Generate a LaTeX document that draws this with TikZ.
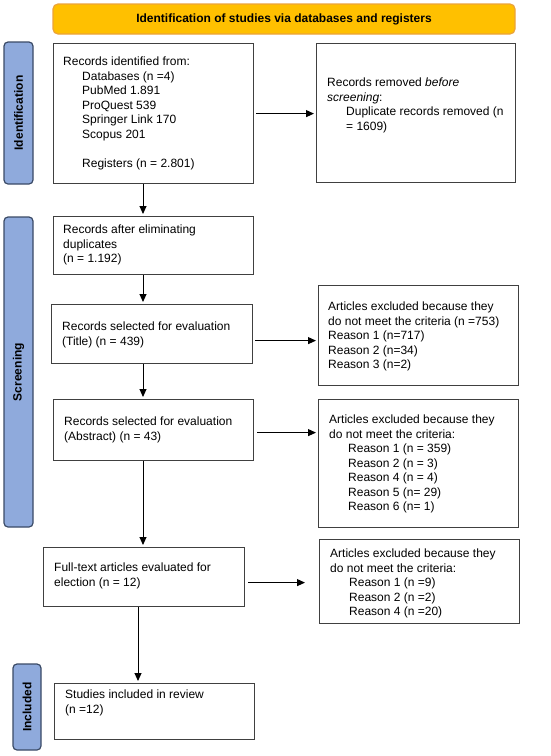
\documentclass[tikz,border=0pt]{standalone}
\usepackage{fontspec}
\setmainfont{Liberation Sans}
\usetikzlibrary{arrows.meta}
\definecolor{sidefill}{HTML}{8FAADC}
\definecolor{sidedraw}{HTML}{3A4A66}
\definecolor{headfill}{HTML}{FFC000}
\definecolor{headdraw}{HTML}{EBA33A}
\newcommand{\rind}{\hspace*{19pt}}
\tikzset{
  box/.style={draw=black!75, line width=1.2pt, anchor=north west, inner sep=0pt},
  txt/.style={anchor=north west, inner sep=0pt, align=left, font=\fontsize{12}{14.5}\selectfont},
  side/.style={draw=sidedraw, fill=sidefill, line width=1.2pt, rounded corners=4pt, rotate=90, inner sep=0pt, font=\fontsize{12}{14.5}\selectfont\bfseries},
  arr/.style={line width=1pt, shorten >=2pt, -{Triangle[length=8pt,width=7pt]}}
}

\begin{document}
\begin{tikzpicture}[x=1pt,y=-1pt]
        \useasboundingbox (0,0) rectangle (550,756);
        
        % Title bar
        \node [draw=headdraw, fill=headfill, line width=1.2pt, rounded corners=5pt, minimum width=462pt, minimum height=30pt, font=\fontsize{12}{14.5}\selectfont\bfseries] (head) at (284,19) {Identification of studies via databases and registers};%
        
        % Side bars
        \node [side, minimum width=142pt, minimum height=29pt] (ident) at (18.5,113) {Identification};%
        \node [side, minimum width=310pt, minimum height=29pt] (screen) at (18.5,372) {Screening};%
        \node [side, minimum width=86pt, minimum height=28pt] (inclbar) at (27,707) {Included};%
        
        % Box: records identified
        \node [box, minimum width=200pt, minimum height=140pt] (found) at (53,43) {};%
        \node [txt] (found-t) at ([shift={(10,14)}]found.north west) {Records identified from:\\
          \rind Databases (n =4)\\
          \rind PubMed 1.891\\
          \rind ProQuest 539\\
          \rind Springer Link 170\\
          \rind Scopus 201\\
          \mbox{}\\
          \rind Registers (n = 2.801)};%
        
        % Box: records removed
        \node [box, minimum width=199pt, minimum height=139pt] (removed) at (316,43) {};%
        \node [txt] (removed-t) at ([shift={(11,35)}]removed.north west) {Records removed \textit{before}\\
          \textit{screening}:\\
          \rind Duplicate records removed (n\\
          \rind = 1609)};%
        
        % Box: after duplicates
        \node [box, minimum width=200pt, minimum height=58pt] (dedup) at (53,216) {};%
        \node [txt] (dedup-t) at ([shift={(10,9)}]dedup.north west) {Records after eliminating\\
          duplicates\\
          (n = 1.192)};%
        
        % Box: title evaluation
        \node [box, minimum width=201pt, minimum height=59pt] (titled) at (51,304) {};%
        \node [txt] (titled-t) at ([shift={(11,18)}]titled.north west) {Records selected for evaluation\\
          (Title) (n = 439)};%
        
        % Box: excluded after title
        \node [box, minimum width=200pt, minimum height=100pt] (exclA) at (318,285) {};%
        \node [txt] (exclA-t) at ([shift={(10,17)}]exclA.north west) {Articles excluded because they\\
          do not meet the criteria (n =753)\\
          Reason 1 (n=717)\\
          Reason 2 (n=34)\\
          Reason 3 (n=2)};%
        
        % Box: abstract evaluation
        \node [box, minimum width=200pt, minimum height=61pt] (abstr) at (53,399) {};%
        \node [txt] (abstr-t) at ([shift={(11,18)}]abstr.north west) {Records selected for evaluation\\
          (Abstract) (n = 43)};%
        
        % Box: excluded after abstract
        \node [box, minimum width=200pt, minimum height=128pt] (exclB) at (318,399) {};%
        \node [txt] (exclB-t) at ([shift={(11,16)}]exclB.north west) {Articles excluded because they\\
          do not meet the criteria:\\
          \rind Reason 1 (n = 359)\\
          \rind Reason 2 (n = 3)\\
          \rind Reason 4 (n = 4)\\
          \rind Reason 5 (n= 29)\\
          \rind Reason 6 (n= 1)};%
        
        % Box: full text
        \node [box, minimum width=201pt, minimum height=59pt] (fulltext) at (43,547) {};%
        \node [txt] (fulltext-t) at ([shift={(11,16)}]fulltext.north west) {Full-text articles evaluated for\\
          election (n = 12)};%
        
        % Box: excluded after full text
        \node [box, minimum width=200pt, minimum height=84pt] (exclC) at (319,539) {};%
        \node [txt] (exclC-t) at ([shift={(11,10)}]exclC.north west) {Articles excluded because they\\
          do not meet the criteria:\\
          \rind Reason 1 (n =9)\\
          \rind Reason 2 (n =2)\\
          \rind Reason 4 (n =20)};%
        
        % Box: included
        \node [box, minimum width=200pt, minimum height=56pt] (incl) at (54,683) {};%
        \node [txt] (incl-t) at ([shift={(11,7)}]incl.north west) {Studies included in review\\
          (n =12)};%
        
        % Drawing downward arrows
        \coordinate (spine) at (143,0);%
        \coordinate (spinelow) at (138,0);%
        \draw [arr] (spine |- found.south) -- (spine |- dedup.north);%
        \draw [arr] (spine |- dedup.south) -- (spine |- titled.north);%
        \draw [arr] (spine |- titled.south) -- (spine |- abstr.north);%
        \draw [arr] (spine |- abstr.south) -- (spine |- fulltext.north);%
        \draw [arr] (spinelow |- fulltext.south) -- (spinelow |- incl.north);%
        
        % Drawing sideward arrows
        \draw [arr] ([xshift=2pt]found.east) -- (found.east -| removed.west);%
        \draw [arr] ([shift={(2pt,-6.5pt)}]titled.east) -- ([yshift=-6.5pt]titled.east -| exclA.west);%
        \draw [arr] ([shift={(3pt,-2.5pt)}]abstr.east) -- ([yshift=-2.5pt]abstr.east -| exclB.west);%
        \draw [arr, shorten >=14pt] ([shift={(3pt,-5.5pt)}]fulltext.east) -- ([yshift=-5.5pt]fulltext.east -| exclC.west);%
\end{tikzpicture}
\end{document}
